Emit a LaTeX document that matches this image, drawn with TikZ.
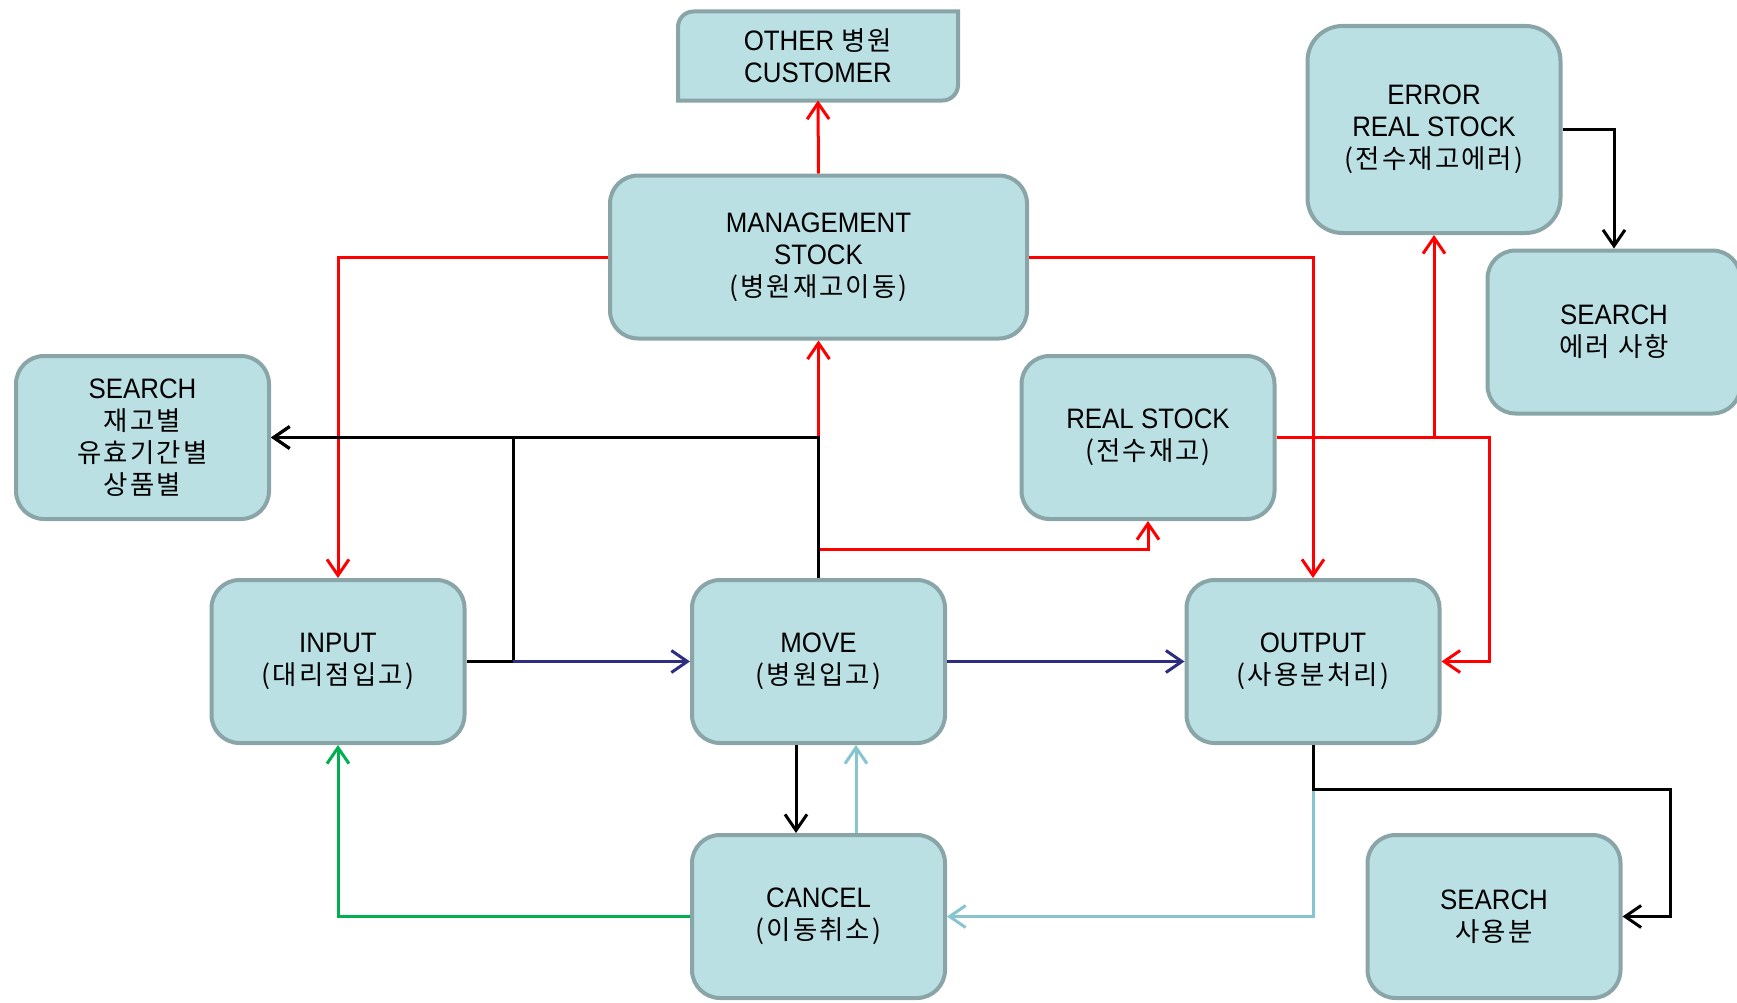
\documentclass[tikz,border=0pt]{standalone}
\usepackage{fontspec}
\setmainfont{Liberation Sans}[FakeStretch=0.92]
\newfontfamily\kr{Noto Sans CJK KR}[Scale=0.94, LetterSpace=8]
\usepackage{tikz}
\usetikzlibrary{shapes,arrows.meta,positioning,backgrounds}

\definecolor{boxfill}{RGB}{186,224,228}
\definecolor{boxedge}{RGB}{138,165,167}
\definecolor{navyline}{RGB}{46,46,128}
\definecolor{paleline}{RGB}{134,196,206}
\definecolor{greenline}{RGB}{0,176,80}

\begin{document}
\begin{tikzpicture}[
    >={Straight Barb[length=3.2mm,width=4.4mm]},
    block/.style={rectangle, draw=boxedge, fill=boxfill, line width=0.08cm, rounded corners=0.56cm, minimum width=5.06cm, minimum height=3.26cm, align=center, font=\fontsize{16}{18.2}\selectfont},
    wideblock/.style={block, minimum width=8.34cm},
    tallblock/.style={block, minimum height=4.14cm, rounded corners=0.7cm},
    tabblock/.style={rectangle, outer sep=0pt, minimum width=5.6cm, minimum height=1.78cm, align=center, font=\fontsize{16}{18.2}\selectfont},
    arrow/.style={->, line width=0.06cm},
    redarrow/.style={arrow, red},
    blackarrow/.style={arrow, black},
    navyarrow/.style={arrow, navyline},
    palearrow/.style={arrow, paleline},
    greenarrow/.style={arrow, greenline}
]
\useasboundingbox (0,0) rectangle (34.74,-20.06);

% Top
\node[tabblock] at (16.36,-1.12) (other) {OTHER {\kr 병원}\\CUSTOMER};
\node[wideblock] at (16.37,-5.14) (mgmt) {MANAGEMENT\\STOCK\\{\kr (병원재고이동)}};
\node[tallblock] at (28.68,-2.59) (error) {ERROR\\REAL STOCK\\{\kr (전수재고에러)}};
\node[block] at (32.28,-6.64) (searcherr) {SEARCH\\{\kr 에러 사항}};

% Middle
\node[block] at (2.85,-8.75) (searchstock) {SEARCH\\{\kr 재고별}\\{\kr 유효기간별}\\{\kr 상품별}};
\node[block] at (22.96,-8.75) (real) {REAL STOCK\\{\kr (전수재고)}};

% Main row
\node[block] at (6.76,-13.23) (input) {INPUT\\{\kr (대리점입고)}};
\node[block] at (16.37,-13.23) (move) {MOVE\\{\kr (병원입고)}};
\node[block] at (26.26,-13.23) (output) {OUTPUT\\{\kr (사용분처리)}};

% Bottom
\node[block] at (16.37,-18.33) (cancel) {CANCEL\\{\kr (이동취소)}};
\node[block] at (29.88,-18.33) (searchuse) {SEARCH\\{\kr 사용분}};

% Tab shape behind the customer text
\begin{scope}[on background layer]
\filldraw[draw=boxedge, fill=boxfill, line width=0.08cm] (other.south west) -- ([yshift=-0.31cm]other.north west) arc[start angle=180, end angle=90, radius=0.31cm] -- (other.north east) -- ([yshift=0.31cm]other.south east) arc[start angle=0, end angle=-90, radius=0.31cm] -- cycle;
\end{scope}

% Junctions
\coordinate (split) at ([yshift=0.58cm]move.north);
\coordinate (injoin) at (10.26,-13.23);
\coordinate (realjoin) at (29.78,-8.75);
\coordinate (usecorner) at (33.4,-15.78);

% Red arrows
\draw[redarrow] (mgmt.north) -- (other.south);
\draw[redarrow] (mgmt.west) -| (input.north);
\draw[redarrow] (mgmt.east) -| (output.north);
\draw[redarrow] (move.north) -- (mgmt.south);
\draw[redarrow] (split) -| (real.south);
\draw[redarrow] (real.east) -| (error.south);
\draw[redarrow] (real.east) -- (realjoin) |- (output.east);

% Black arrows
\draw[blackarrow] (move.north) |- (searchstock.east);
\draw[blackarrow] (input.east) -- (injoin) |- (searchstock.east);
\draw[blackarrow] (error.east) -| (searcherr.north);
\draw[blackarrow] ([xshift=-0.45cm]move.south) -- ([xshift=-0.45cm]cancel.north);

% Navy arrows
\draw[navyarrow] (injoin) -- (move.west);
\draw[navyarrow] (move.east) -- (output.west);

% Pale and green arrows
\draw[palearrow] ([xshift=0.75cm]cancel.north) -- ([xshift=0.75cm]move.south);
\draw[palearrow] (output.south) |- (cancel.east);
\draw[greenarrow] (cancel.west) -| (input.south);

% Output to search
\draw[blackarrow] (output.south) |- (usecorner) |- (searchuse.east);

\end{tikzpicture}
\end{document}
